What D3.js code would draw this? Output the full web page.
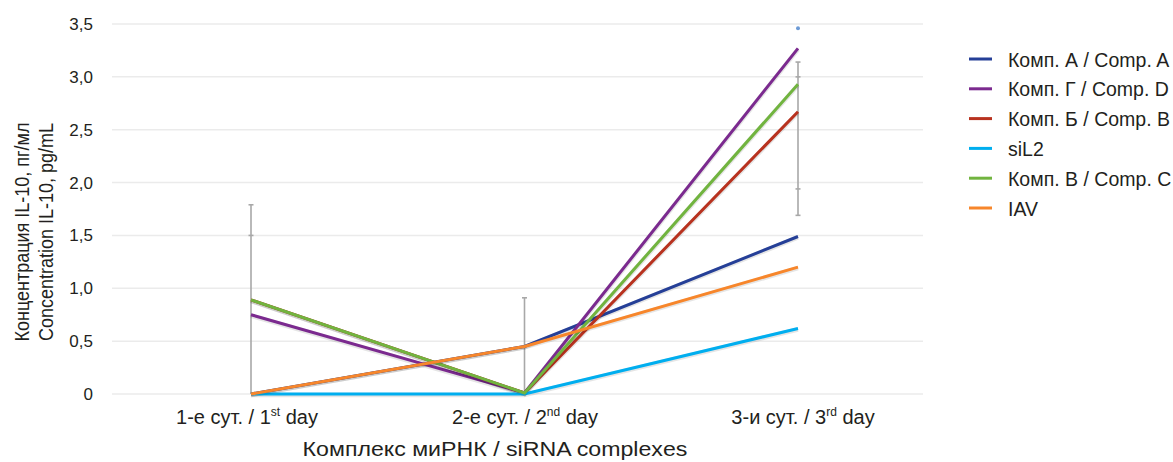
<!DOCTYPE html>
<html><head><meta charset="utf-8">
<script src="https://cdn.jsdelivr.net/npm/d3@7"></script>
<style>body{margin:0;background:#fff}text{font-family:"Liberation Sans",Arial,sans-serif;fill:#231f20}</style>
</head><body><svg id="c" width="1173" height="462"></svg>
<script>
const days = ["1-е сут. / 1|st| day", "2-е сут. / 2|nd| day", "3-и сут. / 3|rd| day"];
const seriesNames = ["Комп. А / Comp. A", "Комп. Г / Comp. D", "Комп. Б / Comp. B", "siL2", "Комп. В / Comp. C", "IAV"];
const seriesColors = ["#253f97", "#7b2a8f", "#b8321f", "#00aeef", "#71b43f", "#f7862b"];
const compA = [0, 0.45, 1.49];
const compD = [0.75, 0.01, 3.27];
const compB = [0.89, 0.01, 2.67];
const siL2 = [0, 0, 0.62];
const compC = [0.89, 0.01, 2.93];
const iav = [0, 0.45, 1.20];
const yTicks = [0, 0.5, 1.0, 1.5, 2.0, 2.5, 3.0, 3.5];
const errLow = [0, 0, 1.69];
const errHigh = [1.79, 0.91, 3.14];
const errTicks = [[0, 1.5], [2, 3.0], [2, 1.94]];
const outlierDay = [2];
const outlierVal = [3.46];

const values = [compA, compD, compB, siL2, compC, iav];
const svg = d3.select("#c");
const xs = d3.scalePoint().domain(d3.range(days.length)).range([251, 798]);
const xl = d3.scalePoint().domain(d3.range(days.length)).range([247, 803]);
const y = d3.scaleLinear().domain([0, 3.5]).range([394, 24]);

// grid
svg.append("g").selectAll("line").data(yTicks).join("line")
  .attr("x1", 112).attr("x2", 923).attr("y1", d => y(d)).attr("y2", d => y(d))
  .attr("stroke", "#ebebeb").attr("stroke-width", 1.5);

// y tick labels
const fmt = d => d === 0 ? "0" : d.toFixed(1).replace(".", ",");
svg.append("g").selectAll("text").data(yTicks).join("text")
  .attr("x", 93).attr("y", d => y(d) + 6).attr("text-anchor", "end")
  .attr("font-size", 17).text(fmt);

// error bars
const eg = svg.append("g").attr("stroke", "#a8a8a8").attr("stroke-width", 1.6);
errLow.forEach((lo, i) => {
  eg.append("line").attr("x1", xs(i)).attr("x2", xs(i)).attr("y1", y(lo)).attr("y2", y(errHigh[i]));
  eg.append("line").attr("x1", xs(i) - 2.5).attr("x2", xs(i) + 2.5).attr("y1", y(errHigh[i])).attr("y2", y(errHigh[i]));
  if (lo > 0) eg.append("line").attr("x1", xs(i) - 2.5).attr("x2", xs(i) + 2.5).attr("y1", y(lo)).attr("y2", y(lo));
});
errTicks.forEach(([i, v]) => {
  eg.append("line").attr("x1", xs(i) - 2.5).attr("x2", xs(i) + 2.5).attr("y1", y(v)).attr("y2", y(v));
});
outlierDay.forEach((d, i) => {
  svg.append("circle").attr("cx", xs(d)).attr("cy", y(outlierVal[i])).attr("r", 2).attr("fill", "#6d9bd6");
});

// lines
const line = d3.line().x((d, i) => xs(i)).y(d => y(d));
values.forEach((v, k) => {
  svg.append("path").datum(v).attr("d", line).attr("fill", "none")
    .attr("stroke", "#000").attr("stroke-opacity", 0.1).attr("stroke-width", 4.5)
    .attr("transform", "translate(0,1)");
  svg.append("path").datum(v).attr("d", line).attr("fill", "none")
    .attr("stroke", seriesColors[k]).attr("stroke-width", 3);
});

// x tick labels with superscripts
days.forEach((d, i) => {
  const parts = d.split("|");
  const t = svg.append("text").attr("transform", `translate(${xl(i)},424)`)
    .attr("text-anchor", "middle").attr("font-size", 20);
  t.append("tspan").text(parts[0]);
  t.append("tspan").attr("font-size", 12).attr("dy", -8).text(parts[1]);
  t.append("tspan").attr("dy", 8).text(parts[2]);
});

// axis titles
svg.append("text").attr("transform", "translate(495,456) scale(1.13,1)").attr("text-anchor", "middle").attr("font-size", 20.5)
  .text("Комплекс миРНК / siRNA complexes");
const yt = svg.append("text").attr("transform", "translate(0,232) rotate(-90) scale(0.9,1)").attr("text-anchor", "middle").attr("font-size", 20);
yt.append("tspan").attr("x", 0).attr("y", 29).text("Концентрация IL-10, пг/мл");
yt.append("tspan").attr("x", 0).attr("y", 53).text("Concentration IL-10, pg/mL");

// legend
const lg = svg.append("g");
seriesNames.forEach((n, k) => {
  const ly = 59 + k * 29.8;
  lg.append("line").attr("x1", 969).attr("x2", 992).attr("y1", ly).attr("y2", ly)
    .attr("stroke", seriesColors[k]).attr("stroke-width", 3);
  lg.append("text").attr("transform", `translate(1008,${ly + 7.5}) scale(0.93,1)`).attr("font-size", 21).text(n);
});
</script></body></html>
